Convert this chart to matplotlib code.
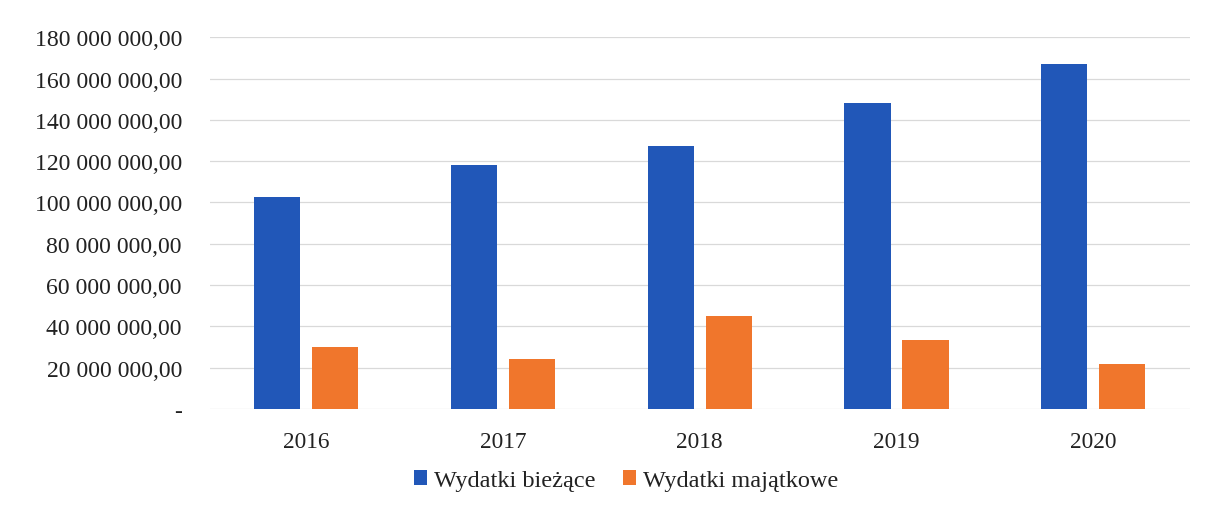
import matplotlib.pyplot as plt
import numpy as np
from matplotlib.ticker import FuncFormatter

plt.rcParams['font.family'] = ['Liberation Serif', 'DejaVu Serif']

years = ['2016', '2017', '2018', '2019', '2020']
wydatki_biezace = [102_500_000, 118_000_000, 127_500_000, 148_000_000, 167_000_000]
wydatki_majatkowe = [30_000_000, 24_000_000, 45_000_000, 33_500_000, 22_000_000]
yticks = np.arange(0, 180_000_001, 20_000_000)


def pl_format(v, pos):
    if v == 0:
        return '-'
    s = f"{v:,.2f}"
    return s.replace(',', ' ').replace('.', ',')


fig = plt.figure(figsize=(12.19, 5.10), dpi=100)
ax = fig.add_axes([0.172, 0.196, 0.804, 0.729])

x = np.arange(len(years))
w = 0.235
gap = 0.06
ax.bar(x - (w + gap) / 2, wydatki_biezace, w, color='#2157b8', label='Wydatki bieżące', zorder=3)
ax.bar(x + (w + gap) / 2, wydatki_majatkowe, w, color='#f0762c', label='Wydatki majątkowe', zorder=3)

ax.set_xlim(-0.49, 4.49)
ax.set_ylim(0, 180_000_000)
ax.set_yticks(yticks)
ax.yaxis.set_major_formatter(FuncFormatter(pl_format))
ax.set_xticks(x)
ax.set_xticklabels(years)
ax.grid(axis='y', color='#d9d9d9', linewidth=0.9, zorder=0)
ax.tick_params(axis='both', length=0, labelsize=16.8, colors='#222222')
ax.tick_params(axis='y', labelsize=17.1, pad=20)
ax.tick_params(axis='x', pad=16)
for s in ax.spines.values():
    s.set_visible(False)

ax.legend(loc='upper center', bbox_to_anchor=(0.425, -0.105), ncol=2, frameon=False,
          fontsize=17.5, handlelength=0.55, handleheight=0.55, handletextpad=0.3,
          columnspacing=1.1, labelcolor='#222222')

fig.savefig('out.png', dpi=100)
